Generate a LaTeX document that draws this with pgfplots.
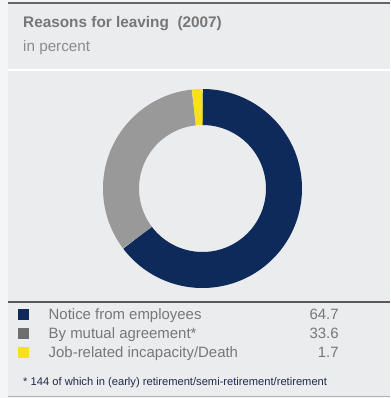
\documentclass[border=0pt]{standalone}
\usepackage{pgfplots}
\pgfplotsset{compat=1.18}
\usepackage{fontspec}
\setmainfont{Liberation Sans}
\definecolor{navy}{HTML}{0E2A5A}
\definecolor{ringgray}{HTML}{999999}
\definecolor{leggray}{HTML}{6E6E6E}
\definecolor{yel}{HTML}{F7E01C}
\definecolor{bg}{HTML}{EBECEE}
\definecolor{outer}{HTML}{F4F5F7}
\definecolor{txt}{HTML}{777777}
\definecolor{foot}{HTML}{1F2A48}
% shares in percent
\def\vA{64.7}\def\vB{33.6}\def\vC{1.7}
\pgfmathsetmacro{\aA}{90}
\pgfmathsetmacro{\aB}{90-\vA*3.6}
\pgfmathsetmacro{\aC}{\aB-\vB*3.6}
\pgfmathsetmacro{\aD}{\aC-\vC*3.6}
\begin{document}
\begin{tikzpicture}
\begin{axis}[
  at={(0,0)}, anchor=south west,
  x=1bp, y=1bp, xmin=0, xmax=390, ymin=0, ymax=398,
  scale only axis, hide axis, clip=false,
  legend style={at={(axis cs:18,92)}, anchor=north west, draw=none, fill=none,
    font=\fontsize{15}{18}\selectfont\color{txt}, row sep=2.8bp,
    cells={anchor=west}, inner sep=0pt},
  legend image code/.code={\fill[#1, draw=none] (0bp,-5.2bp) rectangle (10.5bp,5.2bp);},
]
% background
\fill[outer] (axis cs:0,0) rectangle (axis cs:390,398);
\fill[bg] (axis cs:8,2) rectangle (axis cs:390,395);
\draw[gray!80!black, line width=1.6bp] (axis cs:8,395) -- (axis cs:390,395);
\draw[white, line width=2bp] (axis cs:8,328) -- (axis cs:390,328);
\draw[gray!70!black, line width=1.3bp] (axis cs:8,96) -- (axis cs:390,96);
\draw[white!85!gray, line width=0.8bp] (axis cs:8,94.5) -- (axis cs:390,94.5);
\draw[gray!60, line width=1bp] (axis cs:8,2) -- (axis cs:390,2);
% titles
\node[anchor=base west, font=\fontsize{15.4}{18}\selectfont\bfseries, text=txt, inner sep=0pt] at (axis cs:23,371) {Reasons for leaving\ \ (2007)};
\node[anchor=base west, font=\fontsize{15.3}{18}\selectfont, text=txt!85, inner sep=0pt] at (axis cs:23,347) {in percent};
% donut
\addplot[navy, line width=36bp, domain=\aB:\aA, samples=120, forget plot] ({202.5+81.5*cos(x)},{209.5+81.5*sin(x)});
\addplot[ringgray, line width=36bp, domain=\aC:\aB, samples=80, forget plot] ({202.5+81.5*cos(x)},{209.5+81.5*sin(x)});
\addplot[yel, line width=36bp, domain=\aD:\aC, samples=10, forget plot] ({202.5+81.5*cos(x)},{209.5+81.5*sin(x)});
% legend
\addlegendimage{fill=navy}
\addlegendentry{\hspace{18bp}\makebox[290bp]{Notice from employees\hfill \vA}}
\addlegendimage{fill=leggray}
\addlegendentry{\hspace{18bp}\makebox[290bp]{By mutual agreement*\hfill \vB}}
\addlegendimage{fill=yel}
\addlegendentry{\hspace{18bp}\makebox[290bp]{Job-related incapacity/Death\hfill \vC}}
% footnote
\node[anchor=base west, font=\fontsize{11.2}{13}\selectfont, text=foot, inner sep=0pt] at (axis cs:23,13) {* 144 of which in (early) retirement/semi-retirement/retirement};
\end{axis}
\end{tikzpicture}
\end{document}
